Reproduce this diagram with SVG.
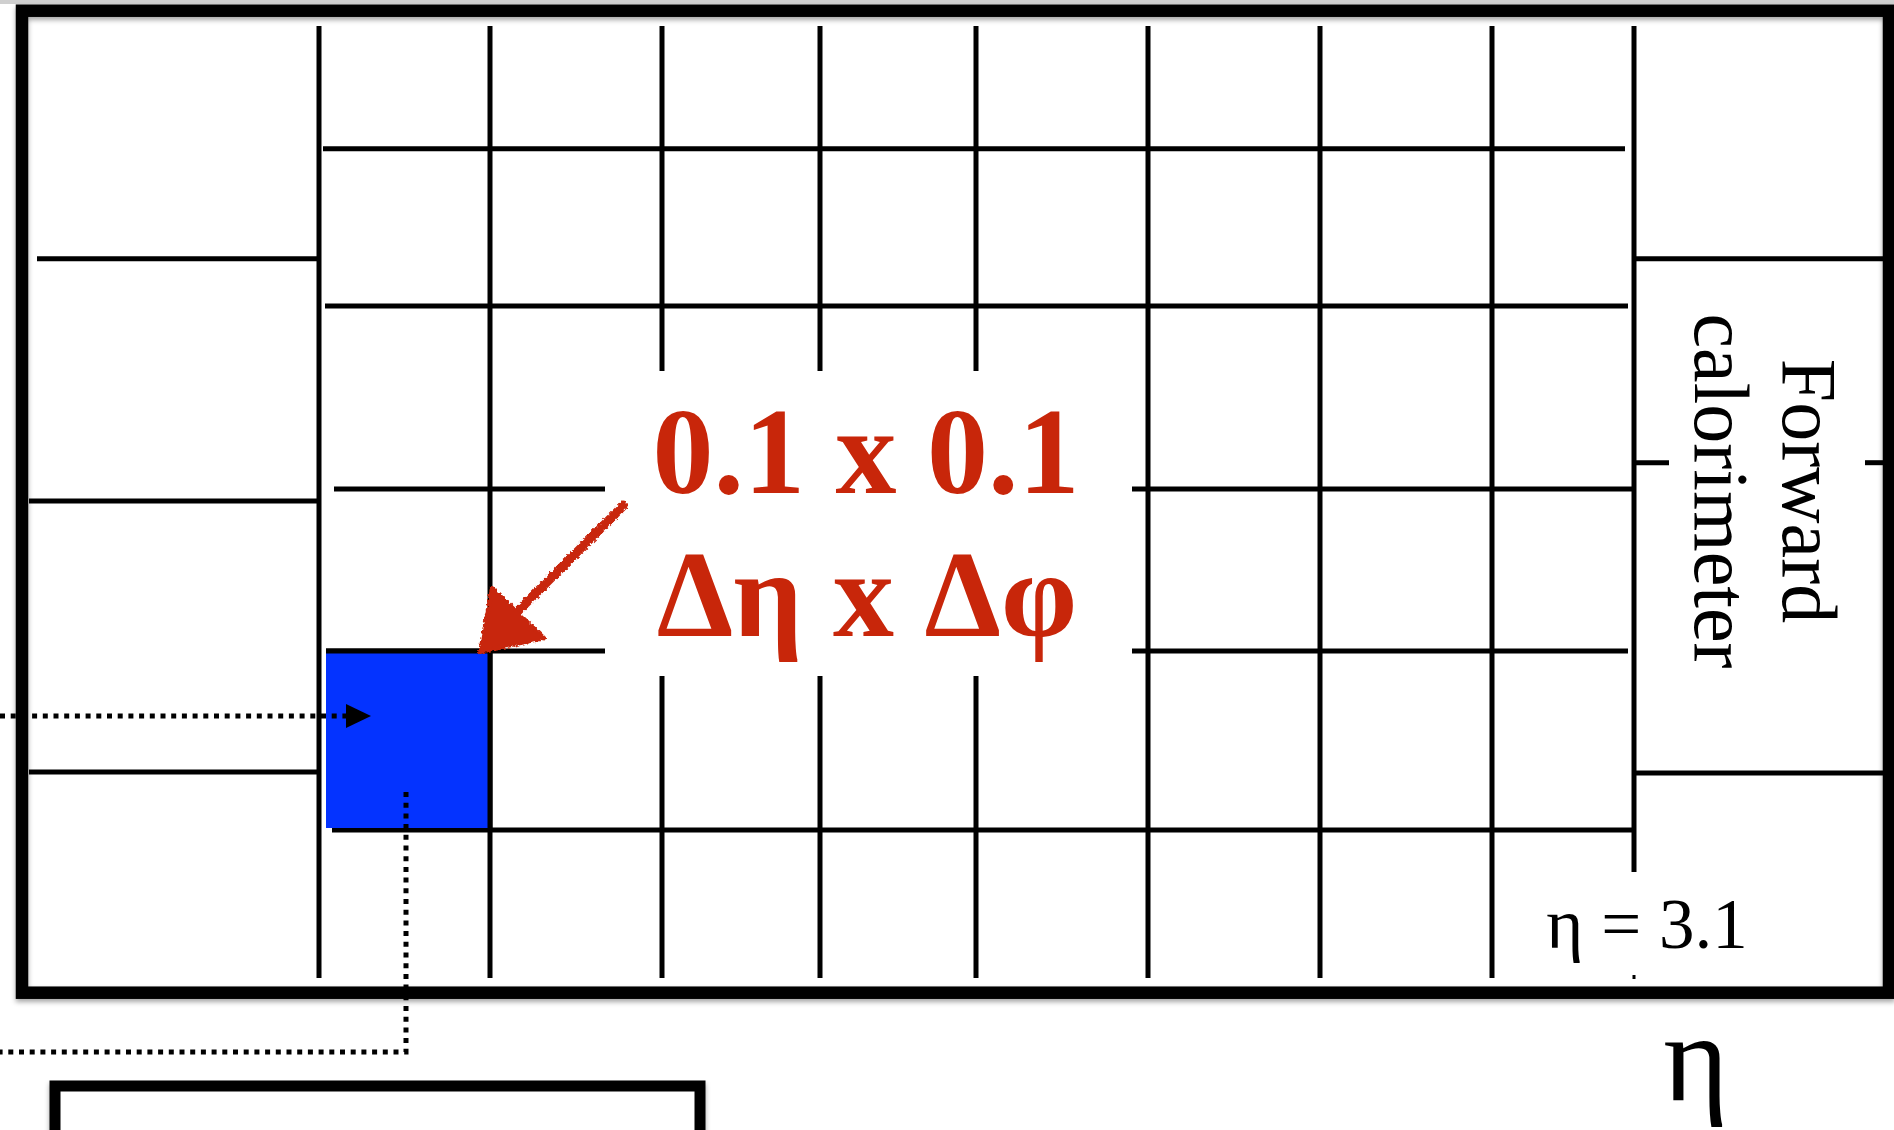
<svg xmlns="http://www.w3.org/2000/svg" width="1894" height="1130" viewBox="0 0 1894 1130">
<style>
.g{stroke:#000;stroke-width:5;fill:none}
.frame{stroke:#000;stroke-width:12.5;fill:none}
.dot{stroke:#000;stroke-width:5;fill:none;stroke-dasharray:5 5.7}
.lab{font-family:"Liberation Serif","Times New Roman",serif;fill:#c8260a;font-weight:bold;font-size:122px;text-anchor:middle}
.t{font-family:"Liberation Serif","Times New Roman",serif;fill:#000}
</style>
<defs>
<filter id="sh" x="-5%" y="-5%" width="110%" height="110%">
<feDropShadow dx="0" dy="3" stdDeviation="2.5" flood-color="#000" flood-opacity="0.35"/>
</filter>
<filter id="chalk" x="-20%" y="-20%" width="140%" height="140%">
<feTurbulence type="fractalNoise" baseFrequency="0.35" numOctaves="2" seed="3" result="n"/>
<feDisplacementMap in="SourceGraphic" in2="n" scale="5" xChannelSelector="R" yChannelSelector="G"/>
</filter>
</defs>
<rect x="0" y="0" width="1894" height="1130" fill="#fff"/>
<rect x="0" y="0" width="1894" height="4" fill="#cfcfcf"/>

<g id="frame">
<rect class="frame" x="22" y="10.7" width="1867" height="982" filter="url(#sh)"/>
</g>

<g id="grid">
<line class="g" x1="37" y1="258.7" x2="321" y2="258.7"/>
<line class="g" x1="29" y1="501" x2="318" y2="501"/>
<line class="g" x1="29" y1="772" x2="318" y2="772"/>
<line class="g" x1="323" y1="148.7" x2="1625" y2="148.7"/>
<line class="g" x1="325" y1="306" x2="1628" y2="306"/>
<line class="g" x1="334" y1="489" x2="605" y2="489"/>
<line class="g" x1="1132" y1="489" x2="1634" y2="489"/>
<line class="g" x1="326" y1="651" x2="605" y2="651"/>
<line class="g" x1="1132" y1="651" x2="1628" y2="651"/>
<line class="g" x1="332" y1="830" x2="1634" y2="830"/>
<line class="g" x1="319" y1="26" x2="319" y2="978"/>
<line class="g" x1="490" y1="26" x2="490" y2="978"/>
<line class="g" x1="662" y1="26" x2="662" y2="371"/>
<line class="g" x1="662" y1="676" x2="662" y2="978"/>
<line class="g" x1="820" y1="26" x2="820" y2="371"/>
<line class="g" x1="820" y1="676" x2="820" y2="978"/>
<line class="g" x1="976" y1="26" x2="976" y2="371"/>
<line class="g" x1="976" y1="676" x2="976" y2="978"/>
<line class="g" x1="1148" y1="26" x2="1148" y2="978"/>
<line class="g" x1="1320" y1="26" x2="1320" y2="978"/>
<line class="g" x1="1492" y1="26" x2="1492" y2="978"/>
<line class="g" x1="1634" y1="26" x2="1634" y2="872"/>
<line class="g" x1="1634" y1="975" x2="1634" y2="979" style="stroke-width:3"/>
<line class="g" x1="1634" y1="258.7" x2="1883" y2="258.7"/>
<line class="g" x1="1634" y1="773" x2="1883" y2="773"/>
<line class="g" x1="1632" y1="462.7" x2="1669" y2="462.7"/>
<line class="g" x1="1865" y1="462.7" x2="1883" y2="462.7"/>
</g>

<g id="cell">
<rect x="326" y="651" width="164" height="177" fill="#0433ff"/>
<line class="g" x1="326" y1="651" x2="490" y2="651"/>
<line class="g" x1="490" y1="651" x2="490" y2="830"/>
</g>

<g id="connectors">
<line class="dot" x1="0" y1="716" x2="346" y2="716"/>
<path d="M346,704 L371,716 L346,728 Z" fill="#000"/>
<polyline class="dot" points="406,792 406,1052 0,1052"/>
</g>

<g id="box">
<rect x="55" y="1086" width="645" height="120" fill="#fff" stroke="#000" stroke-width="11" filter="url(#sh)"/>
</g>

<g id="arrow" filter="url(#chalk)">
<line x1="623" y1="506" x2="516" y2="613" stroke="#c8260a" stroke-width="9" stroke-linecap="round"/>
<path d="M480,652 L492,588 L544,638 Z" fill="#c8260a" stroke="#c8260a" stroke-width="4" stroke-linejoin="round"/>
</g>

<g id="label">
<text class="lab" x="866" y="493">0.1 x 0.1</text>
<text class="lab" x="867" y="636">Δη x Δφ</text>
</g>

<g id="fcal-label">
<text class="t" font-size="78" text-anchor="middle" transform="translate(1783,491) rotate(90)">Forward</text>
<text class="t" font-size="78" text-anchor="middle" transform="translate(1695,491) rotate(90)">calorimeter</text>
</g>

<g id="eta-labels">
<text class="t" font-size="71" x="1647" y="948" text-anchor="middle">η = 3.1</text>
<text class="t" font-size="125" x="1696" y="1100" text-anchor="middle">η</text>
</g>
</svg>
